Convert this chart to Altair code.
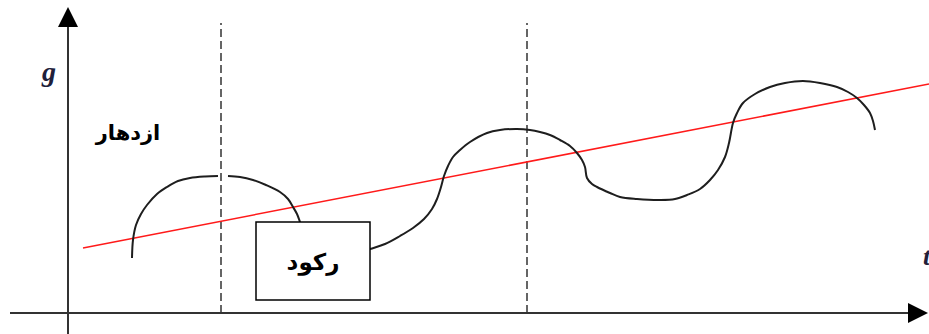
import altair as alt
import pandas as pd

# Business-cycle sketch: output g over time t, with a linear trend line.
# Units: t and g measured from the origin where the two axes cross.

# Cycle curve, first piece (rising arc up to the first peak)
cycle_a_t = [6.4, 6.5, 6.8, 7.3, 7.9, 8.9, 9.9, 11.0, 12.2, 13.7, 15.0]
cycle_a_g = [5.5, 7.3, 8.8, 9.9, 10.8, 11.9, 12.6, 13.2, 13.5, 13.65, 13.7]

# Cycle curve, remainder (downturn, trough, second peak, trough, third peak)
cycle_b_t = [16.0, 17.2, 18.5, 19.8, 21.2, 22.0, 22.5, 22.9, 23.2, 23.7, 25.2,
             27.2, 28.7, 30.2, 31.7, 33.2, 34.5, 35.6, 36.4, 36.9, 37.3, 37.6,
             38.0, 38.5, 39.2, 40.2, 41.9, 43.2, 44.9, 46.2, 47.2, 48.2,
             49.2, 50.2, 50.9, 51.4, 51.7, 51.9, 52.4, 52.9, 54.2, 55.2, 56.9,
             59.2, 60.7, 61.9, 63.2, 64.2, 65.0, 65.7, 66.1, 66.5, 66.9, 67.5,
             68.7, 70.2, 71.7, 73.5, 75.2, 76.9, 78.0, 78.9, 79.6, 80.2, 80.5,
             80.7]
cycle_b_g = [13.7, 13.6, 13.3, 12.8, 12.1, 11.4, 10.6, 9.9, 9.1, 7.8, 6.1,
             5.7, 5.9, 6.4, 6.9, 7.7, 8.5, 9.4, 10.4, 11.4, 12.6, 13.7,
             14.7, 15.6, 16.3, 17.1, 18.0, 18.3, 18.4, 18.3, 18.1, 17.8,
             17.3, 16.7, 16.0, 15.3, 14.6, 13.5, 12.9, 12.6, 12.0, 11.6, 11.4,
             11.3, 11.4, 11.8, 12.4, 13.3, 14.3, 15.6, 17.0, 19.0, 20.0, 21.0,
             21.9, 22.6, 23.0, 23.2, 23.0, 22.6, 22.1, 21.5, 20.8, 20.0, 19.2,
             18.3]

# Long-run trend
trend_t = [1.5, 86.1]
trend_g = [6.5, 22.9]

# Dashed markers at the first two peaks
peak_t = [15.3, 45.9]
peak_top = 29.0

# Labels
prosperity_label = "ازدهار"
recession_label = "رکود"
y_label = "g"
x_label = "t"

# Recession box extent
box_t = [18.8, 30.2]
box_g = [1.3, 9.1]

W, H = 929, 334
T_DOMAIN = [-6.8, 86.1]
G_DOMAIN = [-2.1, 31.3]
xs = alt.Scale(domain=T_DOMAIN, nice=False, zero=False)
ys = alt.Scale(domain=G_DOMAIN, nice=False, zero=False)


def X(field="t"):
    return alt.X(f"{field}:Q", scale=xs, axis=None)


def Y(field="g"):
    return alt.Y(f"{field}:Q", scale=ys, axis=None)


cycle = pd.concat([
    pd.DataFrame({"t": cycle_a_t, "g": cycle_a_g, "seg": "a",
                  "i": range(len(cycle_a_t))}),
    pd.DataFrame({"t": cycle_b_t, "g": cycle_b_g, "seg": "b",
                  "i": range(len(cycle_b_t))}),
])

cycle_layer = alt.Chart(cycle).mark_line(
    color="#1e1e1e", strokeWidth=2, interpolate="catmull-rom"
).encode(x=X(), y=Y(), detail="seg:N", order="i:Q")

trend_layer = alt.Chart(pd.DataFrame({"t": trend_t, "g": trend_g})).mark_line(
    color="#ff1a1a", strokeWidth=1.5
).encode(x=X(), y=Y())

peaks_layer = alt.Chart(pd.DataFrame({"t": peak_t, "g0": 0.0, "g1": peak_top})).mark_rule(
    color="#333333", strokeWidth=1.5, strokeDash=[8, 4]
).encode(x=X(), y=Y("g0"), y2="g1:Q")

# Axes drawn as arrows
y_axis = alt.Chart(pd.DataFrame({"t": [0.0], "g0": [G_DOMAIN[0]], "g1": [29.6]})).mark_rule(
    color="#333333", strokeWidth=2
).encode(x=X(), y=Y("g0"), y2="g1:Q")
x_axis = alt.Chart(pd.DataFrame({"g": [0.0], "t0": [-5.8], "t1": [85.0]})).mark_rule(
    color="#333333", strokeWidth=2
).encode(y=Y(), x=X("t0"), x2="t1:Q")
up_head = alt.Chart(pd.DataFrame({"t": [0.0], "g": [29.6]})).mark_point(
    shape="M0,-1L1,1L-1,1Z", size=400, filled=True, color="#000000", opacity=1
).encode(x=X(), y=Y())
right_head = alt.Chart(pd.DataFrame({"t": [85.0], "g": [0.0]})).mark_point(
    shape="M1,0L-1,-1L-1,1Z", size=400, filled=True, color="#000000", opacity=1
).encode(x=X(), y=Y())

box_layer = alt.Chart(pd.DataFrame({"t0": [box_t[0]], "t1": [box_t[1]],
                                    "g0": [box_g[0]], "g1": [box_g[1]]})).mark_rect(
    fill="white", stroke="black", strokeWidth=1.5
).encode(x=X("t0"), x2="t1:Q", y=Y("g0"), y2="g1:Q")

recession_text = alt.Chart(pd.DataFrame({"t": [24.5], "g": [5.0], "s": [recession_label]})).mark_text(
    font="DejaVu Sans", fontSize=23, fontWeight="bold", color="black", align="center", baseline="middle"
).encode(x=X(), y=Y(), text="s:N")

prosperity_text = alt.Chart(pd.DataFrame({"t": [6.0], "g": [17.9], "s": [prosperity_label]})).mark_text(
    font="DejaVu Sans", fontSize=21, fontWeight="bold", color="black", align="center", baseline="middle"
).encode(x=X(), y=Y(), text="s:N")

g_text = alt.Chart(pd.DataFrame({"t": [-1.9], "g": [24.0], "s": [y_label]})).mark_text(
    font="Liberation Serif", fontSize=28, fontWeight="bold", fontStyle="italic",
    color="#20203a", align="center", baseline="middle"
).encode(x=X(), y=Y(), text="s:N")

t_text = alt.Chart(pd.DataFrame({"t": [85.5], "g": [5.6], "s": [x_label]})).mark_text(
    font="Liberation Serif", fontSize=26, fontWeight="bold", fontStyle="italic",
    color="#20203a", align="left", baseline="middle"
).encode(x=X(), y=Y(), text="s:N")

chart = alt.layer(
    peaks_layer, trend_layer, cycle_layer, y_axis, x_axis, up_head, right_head,
    box_layer, recession_text, prosperity_text, g_text, t_text
).properties(
    width=W, height=H, padding=0, autosize=alt.AutoSizeParams(type="none"),
    background="white"
).configure_view(stroke=None)

chart.save("out.html", embed_options={"renderer": "svg", "actions": False})
